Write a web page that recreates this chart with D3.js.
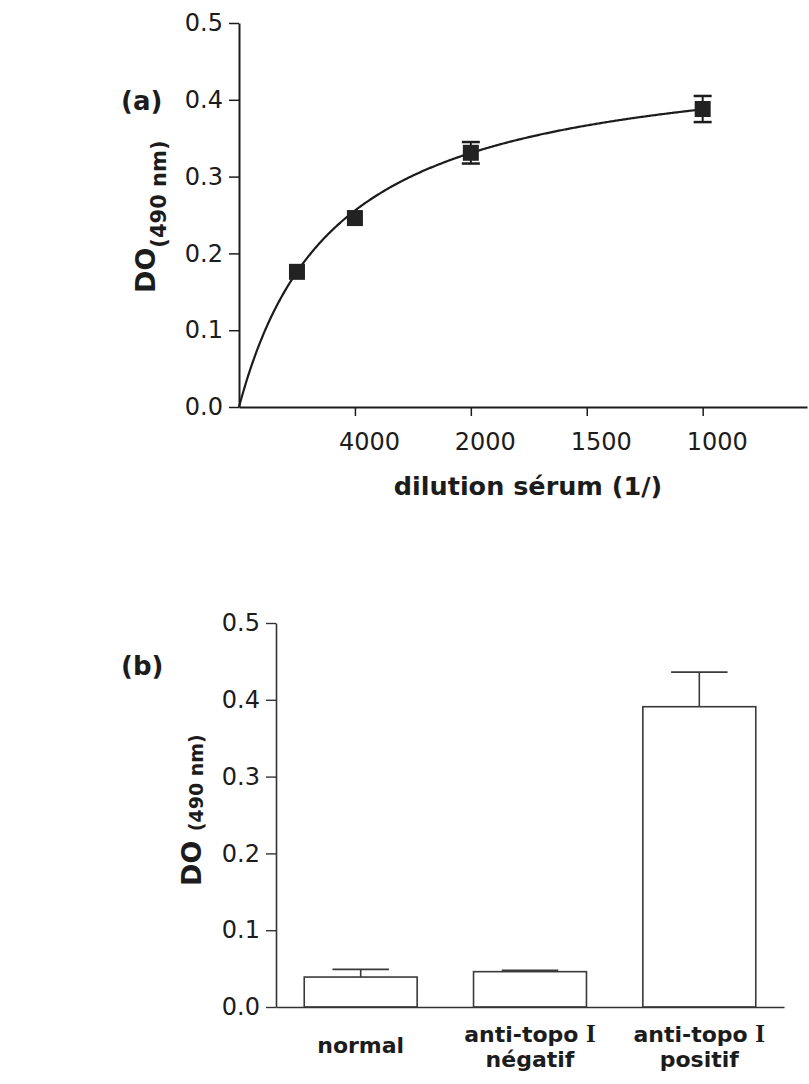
<!DOCTYPE html>
<html>
<head>
<meta charset="utf-8">
<script src="https://cdn.jsdelivr.net/npm/d3@7"></script>
<style>
  body { margin: 0; background: #fff; }
  svg { display: block; }
  text { font-family: "DejaVu Sans", sans-serif; fill: #1c1c1c; }
</style>
</head>
<body>
<svg id="fig" width="809" height="1084"></svg>
<script>
// ---------- Panel (a): serum titration ----------
// x is the serum concentration expressed as 1000 / dilution
const titrationDilutions = [8000, 4000, 2000, 1000];
const titrationOD = [0.176, 0.246, 0.331, 0.388];
const titrationSEM = [0.004, 0.006, 0.014, 0.017];
const titrationTickPos = [0.25, 0.5, 0.75, 1.0];
const titrationTickLabels = ["4000", "2000", "1500", "1000"];
// one-site saturation fit: OD = Bmax * c / (Kd + c)
const fitBmax = 0.468;
const fitKd = 0.2075;

// ---------- Panel (b): serum groups ----------
const groupLabels = [["normal"], ["anti-topo I", "négatif"], ["anti-topo I", "positif"]];
const groupOD = [0.039, 0.046, 0.391];
const groupSEM = [0.010, 0.0015, 0.045];

const yTicks = [0, 0.1, 0.2, 0.3, 0.4, 0.5];

const svg = d3.select("#fig");
svg.append("rect").attr("width", 809).attr("height", 1084).attr("fill", "#fff");

const ink = "#1c1c1c";

// ======== Panel (a) ========
const gA = svg.append("g");
const xA = d3.scaleLinear().domain([0, 1.225]).range([239, 807]);
const yA = d3.scaleLinear().domain([0, 0.5]).range([407, 23]);

// y axis
const yAxisA = gA.append("g")
  .attr("transform", `translate(${xA(0)},0)`)
  .call(d3.axisLeft(yA).tickValues(yTicks).tickFormat(d3.format(".1f")).tickSize(10).tickPadding(6).tickSizeOuter(0));
yAxisA.select(".domain").attr("stroke", ink).attr("stroke-width", 2);
yAxisA.selectAll(".tick line").attr("stroke", ink).attr("stroke-width", 1.5);
yAxisA.selectAll(".tick text").attr("font-size", 24).attr("fill", ink).attr("font-family", "DejaVu Sans");

// x axis
const xAxisA = gA.append("g")
  .attr("transform", `translate(0,${yA(0)})`)
  .call(d3.axisBottom(xA).tickValues(titrationTickPos)
    .tickFormat((d, i) => titrationTickLabels[i]).tickSize(9).tickPadding(17).tickSizeOuter(0));
xAxisA.select(".domain").attr("stroke", ink).attr("stroke-width", 2);
xAxisA.selectAll(".tick line").attr("stroke", ink).attr("stroke-width", 1.5);
xAxisA.selectAll(".tick text").attr("font-size", 24).attr("fill", ink)
  .attr("font-family", "DejaVu Sans").attr("dx", 14);

// fitted saturation curve, from the origin up to the last dilution
const cMax = 1000 / d3.min(titrationDilutions);
const fitPts = d3.range(0, 401).map(i => {
  const c = cMax * i / 400;
  return [c, fitBmax * c / (fitKd + c)];
});
gA.append("path")
  .datum(fitPts)
  .attr("fill", "none")
  .attr("stroke", ink)
  .attr("stroke-width", 2.2)
  .attr("d", d3.line().x(d => xA(d[0])).y(d => yA(d[1])));

// data points with SEM bars (bars shorter than the marker stay hidden under it)
const marker = 16;
const ptsA = titrationDilutions.map((dil, i) => ({ c: 1000 / dil, v: titrationOD[i], e: titrationSEM[i] }));
const capA = 9;
const visibleErr = ptsA.filter(d => yA(0) - yA(d.e) > marker / 2);
const pg = gA.selectAll(".err").data(visibleErr).enter().append("g").attr("class", "err");
pg.append("line")
  .attr("x1", d => xA(d.c)).attr("x2", d => xA(d.c))
  .attr("y1", d => yA(d.v - d.e)).attr("y2", d => yA(d.v + d.e))
  .attr("stroke", ink).attr("stroke-width", 2);
pg.append("line")
  .attr("x1", d => xA(d.c) - capA).attr("x2", d => xA(d.c) + capA)
  .attr("y1", d => yA(d.v + d.e)).attr("y2", d => yA(d.v + d.e))
  .attr("stroke", ink).attr("stroke-width", 2.5);
pg.append("line")
  .attr("x1", d => xA(d.c) - capA).attr("x2", d => xA(d.c) + capA)
  .attr("y1", d => yA(d.v - d.e)).attr("y2", d => yA(d.v - d.e))
  .attr("stroke", ink).attr("stroke-width", 2.5);
gA.selectAll(".pt").data(ptsA).enter().append("rect")
  .attr("class", "pt")
  .attr("x", d => xA(d.c) - marker / 2).attr("y", d => yA(d.v) - marker / 2)
  .attr("width", marker).attr("height", marker)
  .attr("fill", "#222");

// axis titles
gA.append("text")
  .attr("x", 528).attr("y", 495)
  .attr("text-anchor", "middle")
  .attr("font-size", 25.5).attr("font-weight", "bold")
  .text("dilution sérum (1/)");

const yTitleA = gA.append("text")
  .attr("transform", "translate(155,293) rotate(-90)")
  .attr("font-weight", "bold");
yTitleA.append("tspan").attr("font-size", 27).text("DO");
yTitleA.append("tspan").attr("font-size", 21).attr("dy", 11).text("(490 nm)");

gA.append("text")
  .attr("x", 121).attr("y", 110)
  .attr("font-size", 26).attr("font-weight", "bold")
  .text("(a)");

// ======== Panel (b) ========
const gB = svg.append("g");
const xB = d3.scaleBand()
  .domain(groupLabels.map((d, i) => i))
  .range([276, 784])
  .paddingInner(0.333)
  .paddingOuter(0.1667);
const yB = d3.scaleLinear().domain([0, 0.5]).range([1007, 623]);

const yAxisB = gB.append("g")
  .attr("transform", `translate(276,0)`)
  .call(d3.axisLeft(yB).tickValues(yTicks).tickFormat(d3.format(".1f")).tickSize(10).tickPadding(6).tickSizeOuter(0));
yAxisB.select(".domain").attr("stroke", "#333").attr("stroke-width", 1.6);
yAxisB.selectAll(".tick line").attr("stroke", "#333").attr("stroke-width", 1.4);
yAxisB.selectAll(".tick text").attr("font-size", 24).attr("fill", ink).attr("font-family", "DejaVu Sans");

// bars
const barStroke = "#3a3a3a";
gB.selectAll(".bar").data(groupOD).enter().append("rect")
  .attr("class", "bar")
  .attr("x", (d, i) => xB(i))
  .attr("y", d => yB(d))
  .attr("width", xB.bandwidth())
  .attr("height", d => yB(0) - yB(d))
  .attr("fill", "#fff")
  .attr("stroke", barStroke)
  .attr("stroke-width", 1.6);

// upper SEM bars
const capB = xB.bandwidth() / 4;
groupOD.forEach((v, i) => {
  const cx = xB(i) + xB.bandwidth() / 2;
  gB.append("line")
    .attr("x1", cx).attr("x2", cx)
    .attr("y1", yB(v)).attr("y2", yB(v + groupSEM[i]))
    .attr("stroke", barStroke).attr("stroke-width", 1.6);
  gB.append("line")
    .attr("x1", cx - capB).attr("x2", cx + capB)
    .attr("y1", yB(v + groupSEM[i])).attr("y2", yB(v + groupSEM[i]))
    .attr("stroke", barStroke).attr("stroke-width", 1.8);
});

// x axis line (no ticks)
const xAxisB = gB.append("g")
  .attr("transform", `translate(0,${yB(0)})`)
  .call(d3.axisBottom(xB).tickSize(0).tickFormat("").tickSizeOuter(0));
xAxisB.select(".domain").attr("stroke", "#333").attr("stroke-width", 1.6);

// group labels
groupLabels.forEach((lines, i) => {
  const cx = xB(i) + xB.bandwidth() / 2;
  const t = gB.append("text")
    .attr("text-anchor", "middle")
    .attr("font-size", 22).attr("font-weight", "bold");
  lines.forEach((line, j) => {
    const baseY = lines.length === 1 ? 1053 : 1042 + j * 25;
    const ts = t.append("tspan").attr("x", cx).attr("y", baseY);
    const m = line.match(/^(.*) I$/);
    if (m) {
      ts.append("tspan").text(m[1] + " ");
      ts.append("tspan").attr("font-family", "Liberation Serif").attr("font-size", 25).text("I");
    } else {
      ts.text(line);
    }
  });
});

const yTitleB = gB.append("text")
  .attr("transform", "translate(201,886) rotate(-90)")
  .attr("font-weight", "bold");
yTitleB.append("tspan").attr("font-size", 27).text("DO ");
yTitleB.append("tspan").attr("font-size", 19).attr("dy", 2).text("(490 nm)");

gB.append("text")
  .attr("x", 121).attr("y", 675)
  .attr("font-size", 26).attr("font-weight", "bold")
  .text("(b)");
</script>
</body>
</html>
